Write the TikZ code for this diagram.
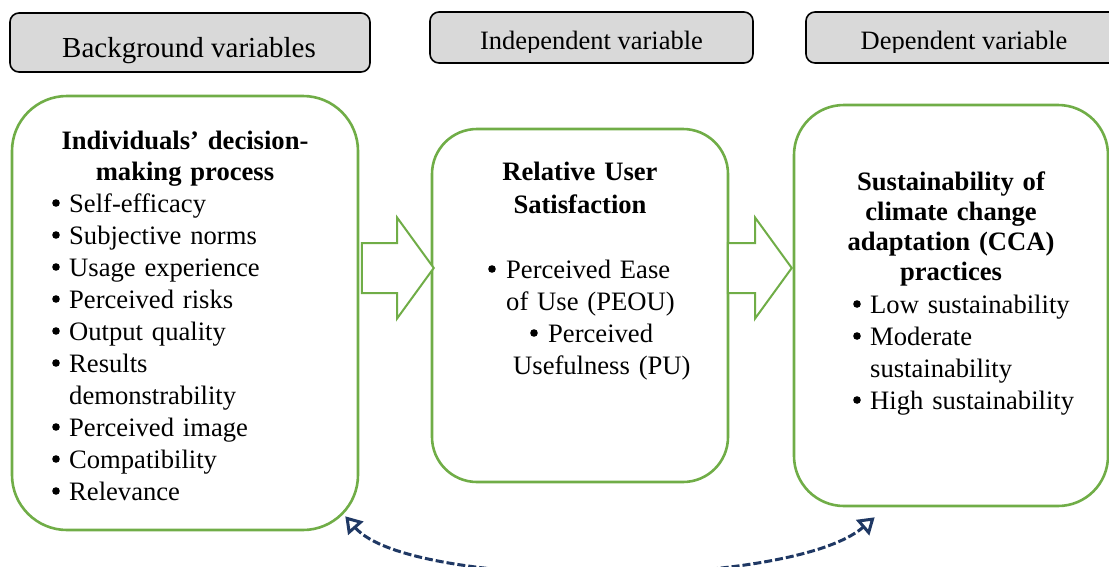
\documentclass[tikz,border=0pt]{standalone}
\usepackage{fontspec}
\setmainfont{Liberation Serif}
\usepackage{xcolor}
\usetikzlibrary{calc, arrows.meta, shapes.arrows}
\definecolor{boxgreen}{HTML}{70AD47}
\definecolor{headgray}{HTML}{D9D9D9}
\definecolor{loopnavy}{HTML}{1F3864}
\newcommand{\dotmark}{\tikz[baseline=-9pt]\fill[black] (0,0) circle (3.8pt);}
\newcommand{\bul}{\makebox[17pt][l]{\dotmark}}
\tikzset{
  headbox/.style={draw=black, line width=1.6pt, fill=headgray, rounded corners=9pt},
  mainbox/.style={draw=boxgreen, line width=2.6pt, rounded corners=#1},
  fatarrow/.style={single arrow, draw=boxgreen, line width=2pt, fill=white, minimum width=99pt,
    inner xsep=0pt, inner ysep=24pt, single arrow head extend=25.5pt, single arrow tip angle=108,
    single arrow head indent=0pt, anchor=tip},
  headtext/.style={font=\fontsize{#1}{30}\selectfont, inner sep=0pt, anchor=base},
  titletext/.style={font=\bfseries\fontsize{26.6}{#1}\selectfont, align=center, inner sep=0pt, anchor=base},
  listtext/.style={font=\fontsize{26.6}{32}\selectfont, align=left, inner sep=0pt, anchor=base west},
  loopline/.style={draw=loopnavy, line width=3pt, dash pattern=on 8pt off 3pt,
    {Triangle[open, length=16pt, width=20pt]}-{Triangle[open, length=16pt, width=20pt]}}
}
\begin{document}
\begin{tikzpicture}[x=1pt, y=-1pt]
    \useasboundingbox (0,0) rectangle (1109,566);
    \node[headbox, minimum width=360pt, minimum height=59pt] (bghead) at (190,42.5) {};
    \node[headbox, minimum width=323pt, minimum height=51pt] (indhead) at (591.5,37.5) {};
    \node[headbox, minimum width=314pt, minimum height=51pt] (dephead) at (963,37.5) {};
    \begin{scope}
        \clip (0,0) rectangle (1109,65);
        \node[headtext=29] (bgtxt) at (189,57) {Background variables};
    \end{scope}
    \begin{scope}
        \clip (0,0) rectangle (1109,52);
        \node[headtext=26.5] (indtxt) at (591.5,49) {Independent variable};
        \node[headtext=26.5] (deptxt) at (964,49) {Dependent variable};
    \end{scope}
    \node[mainbox=55pt, minimum width=346pt, minimum height=434pt] (bg) at (185,313) {};
    \node[mainbox=45pt, minimum width=296pt, minimum height=353pt] (rus) at (580,305.5) {};
    \node[mainbox=50pt, minimum width=314pt, minimum height=401pt] (cca) at (951,305.5) {};
    \node[titletext=31, text width=320pt] (bgtitle) at (185,149) {Individuals' decision-\\making process};
    \node[listtext, text width=300pt] (bglist) at (52,212) {\bul Self-efficacy\\\bul Subjective norms\\\bul Usage experience\\\bul Perceived risks\\\bul Output quality\\\bul Results\\\hspace*{17pt}demonstrability\\\bul Perceived image\\\bul Compatibility\\\bul Relevance};
    \node[titletext=33, text width=280pt] (rustitle) at (580,180) {Relative User\\Satisfaction};
    \node[listtext, text width=230pt] (ruslist) at (488,278) {\makebox[18pt][l]{\dotmark}Perceived Ease\\\hspace*{18pt}of Use (PEOU)\\\hspace*{42pt}\makebox[18pt][l]{\dotmark}Perceived\\\hspace*{25pt}Usefulness (PU)};
    \node[titletext=30, text width=300pt] (ccatitle) at (951,190) {Sustainability of\\climate change\\adaptation (CCA)\\practices};
    \node[listtext, text width=250pt] (ccalist) at (853,313) {\bul Low sustainability\\\bul Moderate\\\hspace*{17pt}sustainability\\\bul High sustainability};
    \node[fatarrow, minimum height=72pt] (arone) at (435,268) {};
    \node[fatarrow, minimum height=64pt] (artwo) at (793,268) {};
    \coordinate (lfoot) at ($(bg.south east)+(-14,-15)$);
    \coordinate (rfoot) at ($(cca.south west)+(82,10)$);
    \draw[loopline] (lfoot) .. controls (410,590) and (790,590) .. (rfoot);
\end{tikzpicture}
\end{document}
